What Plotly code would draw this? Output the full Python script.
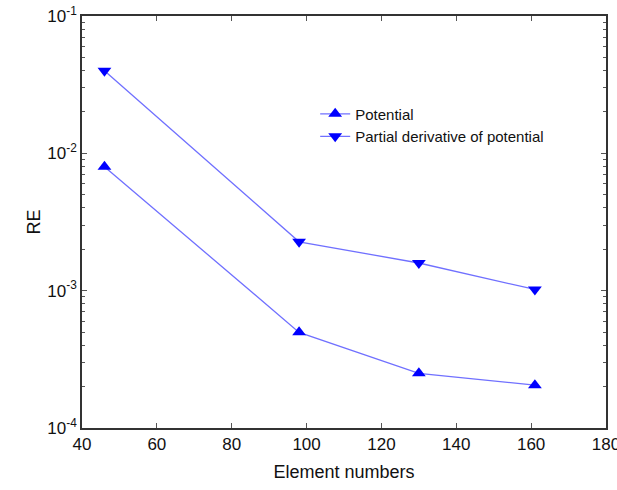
import plotly.graph_objects as go

element_numbers = [46, 98, 130, 161]
re_potential = [8.0e-3, 4.97e-4, 2.5e-4, 2.05e-4]
re_partial = [4.0e-2, 2.27e-3, 1.59e-3, 1.02e-3]

x_ticks = [40, 60, 80, 100, 120, 140, 160, 180]
y_tickvals = [1e-4, 1e-3, 1e-2, 1e-1]
y_ticktext = ["10<sup>-4</sup>", "10<sup>-3</sup>", "10<sup>-2</sup>", "10<sup>-1</sup>"]
y_minor_vals = [m * d for d in (1e-4, 1e-3, 1e-2) for m in range(2, 10)]

line_color = "#7070ff"
marker_color = "#0000ff"
font_family = "Liberation Sans, Arial, sans-serif"

fig = go.Figure()
fig.add_trace(go.Scatter(
    x=element_numbers, y=re_potential, mode="lines+markers", name="Potential",
    line=dict(color=line_color, width=1.3),
    marker=dict(symbol="triangle-up", size=12, color=marker_color),
))
fig.add_trace(go.Scatter(
    x=element_numbers, y=re_partial, mode="lines+markers", name="Partial derivative of potential",
    line=dict(color=line_color, width=1.3),
    marker=dict(symbol="triangle-down", size=12, color=marker_color),
))

axis_common = dict(
    showline=True, linecolor="#333333", linewidth=1.5, mirror="allticks",
    ticks="inside", tickcolor="#555555", ticklen=5, showgrid=False, zeroline=False,
    automargin=False, ticklabeloverflow="allow",
    tickfont=dict(family=font_family, size=17, color="#111111"),
)

fig.update_xaxes(
    range=[40, 180], tickvals=x_ticks,
    title=dict(text="Element numbers", font=dict(family=font_family, size=18, color="#111111"), standoff=12),
    **axis_common,
)
fig.update_yaxes(
    type="log", range=[-4, -1], tickvals=y_tickvals, ticktext=y_ticktext,
    minor=dict(ticks="inside", ticklen=3, tickcolor="#555555", showgrid=False, tickvals=y_minor_vals),
    title=dict(text="RE", font=dict(family=font_family, size=18, color="#111111"), standoff=2),
    **axis_common,
)

fig.update_layout(
    width=617, height=490,
    margin=dict(l=82, r=11, t=16, b=62),
    paper_bgcolor="white", plot_bgcolor="white",
    showlegend=True,
    legend=dict(x=0.445, y=0.802, xanchor="left", yanchor="top",
                bgcolor="rgba(0,0,0,0)", borderwidth=0,
                font=dict(family=font_family, size=15, color="#111111"),
                tracegroupgap=0, itemwidth=30),
    font=dict(family=font_family),
)

fig.write_html("out.html")
